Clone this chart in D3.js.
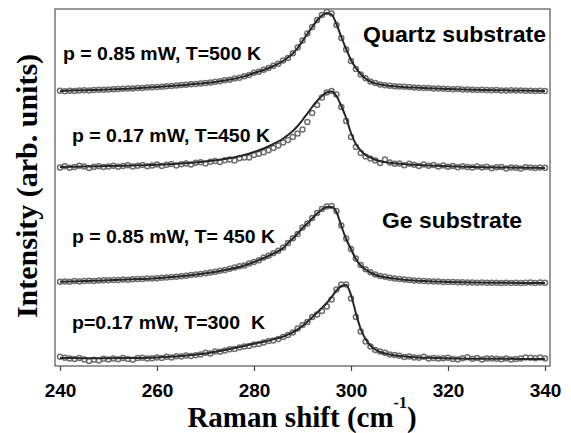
<!DOCTYPE html>
<html>
<head>
<meta charset="utf-8">
<script src="https://cdn.jsdelivr.net/npm/d3@7"></script>
<style>
  body { margin: 0; background: #fff; }
  text { white-space: pre; }
</style>
</head>
<body>
<div id="chart"></div>
<script>
/* CONSTANTS AND GLOBALS */
const width = 571,
  height = 433,
  margin = { top: 9, bottom: 67, left: 55, right: 21 };

/* DATA */
// measured points: one per cm-1 from 240 to 340
const shift = d3.range(240, 341);

// intensities above each spectrum's own baseline (arb. units)
const q085 = [
  0.2, -0.3, 0.3, 0, 0.5, 0.8, 0.6, 1.1, 1.2, 1.3,
  1.6, 1.8, 1.9, 2.3, 2.4, 2.6, 2.9, 3.1, 3.6, 3.8,
  4.1, 4.3, 4.8, 5.0, 5.4, 5.9, 6.2, 6.8, 7.0, 7.6,
  8.1, 8.5, 9.3, 9.8, 10.7, 11.3, 12.4, 13.2, 14.8, 16.0,
  18.2, 19.3, 21.2, 23.0, 25.3, 27.2, 30.4, 33.0, 37.8, 43.5,
  50.5, 57.5, 64.0, 71.0, 76.0, 79.0, 77.5, 66.0, 53.0, 41.5,
  30.0, 22.0, 16.5, 12.8, 9.6, 7.9, 6.6, 5.7, 5.3, 4.8,
  4.4, 4.2, 3.9, 3.5, 3.3, 3.0, 2.9, 2.6, 2.4, 2.2,
  2.1, 1.8, 1.9, 1.5, 1.4, 1.3, 1.1, 1.2, 0.9, 0.8,
  0.9, 0.6, 0.5, 0.7, 0.4, 0.4, 0.2, 0.3, 0.1, 0.2,
  0.0
];
const q017 = [
  0.5, 1.8, 0.2, 1.0, 2.2, 1.5, 0.0, 1.2, 1.8, 1.0,
  1.5, 2.3, 1.2, 2.0, 2.8, 1.6, 2.2, 3.0, 1.8, 2.6,
  3.4, 2.0, 3.2, 3.9, 2.6, 3.8, 4.6, 3.4, 5.2, 5.8,
  4.6, 6.2, 7.0, 6.0, 7.8, 8.6, 7.4, 9.8, 10.6, 10.4,
  13.0, 14.2, 15.8, 17.8, 20.0, 22.5, 25.5, 28.0, 31.0, 34.5,
  38.5, 46.0, 55.0, 63.0, 70.5, 75.5, 77.0, 73.5, 61.0, 47.0,
  31.0, 21.0, 15.0, 11.5, 9.5, 7.5, 5.0, 8.5, 5.5, 4.2,
  4.5, 2.8, 4.2, 3.2, 2.0, 3.6, 2.2, 3.0, 1.6, 2.4,
  1.2, 2.0, 0.8, 1.8, 1.0, 0.4, 1.4, 0.6, 1.2, -0.2,
  0.8, 1.0, -0.4, 0.6, 0.2, -0.6, 0.8, 0.6, 0.0, 0.4,
  0.2
];
const g085 = [
  1.3, 1.5, 1.2, 1.9, 1.6, 2.0, 2.2, 2.1, 2.6, 2.7,
  2.8, 3.0, 3.1, 3.4, 3.3, 3.7, 4.0, 4.1, 4.4, 4.6,
  4.8, 5.2, 5.4, 5.9, 6.2, 6.8, 7.2, 7.9, 8.5, 9.0,
  9.7, 10.5, 11.2, 12.3, 13.0, 14.2, 15.5, 16.8, 17.6, 19.6,
  21.0, 22.8, 25.4, 27.2, 29.8, 32.2, 35.5, 40.0, 44.8, 49.0,
  55.5, 59.5, 65.0, 70.0, 74.0, 76.5, 77.0, 72.0, 57.5, 44.5,
  34.0, 24.5, 18.0, 13.8, 10.8, 8.6, 7.0, 6.2, 5.2, 4.4,
  3.9, 3.5, 3.0, 2.6, 2.2, 1.9, 1.8, 1.5, 1.4, 1.1,
  1.0, 0.9, 0.7, 0.8, 0.5, 0.5, 0.3, 0.4, 0.2, 0.3,
  0.2, 0.0, 0.2, 0.1, 0.3, -0.1, 0.2, 0.5, 0.1, 0.6,
  0.3
];
const g017 = [
  2.3, 1.2, 0.6, 0.0, 1.0, -0.6, -2.0, -0.8, -1.6, 0.2,
  -0.4, 0.6, -0.2, 1.0, 0.0, -0.8, 0.9, 1.2, 0.4, 0.7,
  1.4, 1.0, 2.2, 1.6, 2.8, 2.4, 3.4, 3.0, 3.8, 4.6,
  6.2, 5.6, 7.4, 7.2, 8.6, 9.8, 10.0, 11.6, 12.4, 13.0,
  14.6, 15.0, 16.6, 18.0, 18.4, 20.0, 22.0, 24.0, 26.5, 30.5,
  34.0, 37.0, 42.0, 44.5, 48.0, 52.5, 59.5, 69.5, 74.5, 74.5,
  60.5, 42.0, 27.5, 17.5, 12.5, 9.0, 7.5, 6.2, 4.5, 4.0,
  3.2, 2.0, 2.6, 1.4, 1.2, 2.2, 0.4, 1.0, 0.6, 0.8,
  1.2, 0.0, -0.6, 0.8, 1.8, 0.2, 1.0, -0.4, 0.4, 0.6,
  0.2, -0.2, 0.4, -0.4, 0.0, 0.6, 1.6, 1.2, 0.8, 1.4,
  0.6
];

// fitted line shapes, given at these shifts
const fitShift = [240, 245, 250, 255, 260, 265, 270, 274, 278, 280, 282, 284,
  286, 287, 288, 289, 290, 291, 292, 293, 294, 295, 296, 297, 298, 299, 300,
  301, 302, 303, 304, 305, 306, 308, 310, 313, 316, 320, 325, 330, 335, 340];
const q085Fit = [0, 0.8, 1.6, 2.6, 4, 5.8, 8, 10.6, 14.6, 18, 21, 25,
  30, 33.5, 37.5, 43, 50, 57, 64, 70.5, 75.5, 78, 76.5, 67, 54, 42, 31,
  23, 17, 12.5, 9.5, 7.6, 6.4, 5.1, 4.3, 3.4, 2.7, 2, 1.3, 0.8, 0.4, 0];
const q017Fit = [1, 1.4, 1.9, 2.5, 3.2, 4.5, 6.5, 9, 13, 16, 19.5, 24,
  29.5, 33, 37, 42, 48, 54.5, 61, 67, 72, 75.5, 76.5, 72, 62, 50, 35,
  24, 17.5, 13, 10.5, 8.2, 6.8, 5.2, 4.2, 3.2, 2.5, 1.7, 1, 0.6, 0.3, 0];
const g085Fit = [1.3, 2, 2.8, 3.7, 4.8, 6.8, 9.7, 13, 17.5, 21, 25, 29.5,
  35, 40, 44.5, 49.5, 55, 59.5, 64.5, 69.5, 73.5, 76, 76, 71, 57, 44, 34,
  24, 17.5, 13.5, 10.5, 8.3, 6.8, 5, 3.8, 2.5, 1.7, 1, 0.5, 0.3, 0.1, 0];
const g017Fit = [1, 0.8, 0.8, 1, 1.6, 3, 5.5, 9, 13, 15.2, 17.3, 19.6,
  22.4, 24.3, 26.6, 29.6, 33.2, 37.3, 41.8, 46.3, 51, 56, 62, 68.5, 73, 74, 64,
  46, 30, 20, 13.5, 9.5, 7, 4.5, 3, 1.8, 1.2, 0.7, 0.3, 0.2, 0.1, 0];

// vertical offset of each spectrum in the stack
const offsets = [275, 198, 83, 7];
const pointSets = [q085, q017, g085, g017];
const fitSets = [q085Fit, q017Fit, g085Fit, g017Fit];
const conditionLabels = ["p = 0.85 mW, T=500 K", "p = 0.17 mW, T=450 K",
  "p = 0.85 mW, T= 450 K", "p=0.17 mW, T=300  K"];
const substrateLabels = ["Quartz substrate", "Ge substrate"];
const xTicks = [240, 260, 280, 300, 320, 340];

/* SCALES */
const xScale = d3.scaleLinear()
  .domain([240, 340])
  .range([60, 545]);

const yScale = d3.scaleLinear()
  .domain([0, height - margin.top - margin.bottom])
  .range([height - margin.bottom, margin.top]);

/* SVG */
const svg = d3.select("#chart")
  .append("svg")
  .attr("width", width)
  .attr("height", height);

// frame
svg.append("rect")
  .attr("x", margin.left)
  .attr("y", margin.top)
  .attr("width", width - margin.left - margin.right)
  .attr("height", height - margin.top - margin.bottom)
  .attr("fill", "none")
  .attr("stroke", "#555")
  .attr("stroke-width", 1.2);

// x axis
const xAxis = d3.axisBottom(xScale)
  .tickValues(xTicks)
  .tickSize(5)
  .tickSizeOuter(0)
  .tickPadding(13);

const gx = svg.append("g")
  .attr("transform", `translate(0, ${height - margin.bottom})`)
  .call(xAxis);
gx.select(".domain").remove();
gx.selectAll("line").attr("stroke", "#444").attr("stroke-width", 1.2);
gx.selectAll("text")
  .attr("fill", "#000")
  .style("font", "bold 19px 'Liberation Sans', Arial, sans-serif");

/* SPECTRA */
const line = d3.line()
  .x(d => xScale(d[0]))
  .y(d => yScale(d[1]))
  .curve(d3.curveMonotoneX);

pointSets.forEach((vals, i) => {
  const pts = shift.map((s, j) => [s, vals[j] + offsets[i]]);
  const fit = fitShift.map((s, j) => [s, fitSets[i][j] + offsets[i]]);

  svg.append("g")
    .selectAll("circle")
    .data(pts)
    .join("circle")
    .attr("cx", d => xScale(d[0]))
    .attr("cy", d => yScale(d[1]))
    .attr("r", 2.5)
    .attr("fill", "none")
    .attr("stroke", "#707070")
    .attr("stroke-width", 1.5);

  svg.append("path")
    .datum(fit)
    .attr("d", line)
    .attr("fill", "none")
    .attr("stroke", "#262626")
    .attr("stroke-width", 2);
});

/* LABELS */
const condPos = [[63, 60], [72, 142], [72, 243], [72, 329]];
const condWidth = [198, 198, 203, 193];
svg.selectAll(".cond")
  .data(conditionLabels)
  .join("text")
  .attr("class", "cond")
  .attr("x", (d, i) => condPos[i][0])
  .attr("y", (d, i) => condPos[i][1])
  .attr("textLength", (d, i) => condWidth[i])
  .attr("lengthAdjust", "spacingAndGlyphs")
  .style("font", "bold 18px 'Liberation Sans', Arial, sans-serif")
  .text(d => d);

const subPos = [[363, 42], [382, 228]];
const subWidth = [183, 140];
svg.selectAll(".sub")
  .data(substrateLabels)
  .join("text")
  .attr("class", "sub")
  .attr("x", (d, i) => subPos[i][0])
  .attr("y", (d, i) => subPos[i][1])
  .attr("textLength", (d, i) => subWidth[i])
  .attr("lengthAdjust", "spacingAndGlyphs")
  .style("font", "bold 22px 'Liberation Sans', Arial, sans-serif")
  .text(d => d);

// axis titles
const xTitle = svg.append("text")
  .attr("x", 302)
  .attr("y", 427)
  .attr("text-anchor", "middle")
  .style("font", "bold 29px 'Liberation Serif', 'Times New Roman', serif");
xTitle.append("tspan").text("Raman shift (cm");
xTitle.append("tspan").attr("dy", -19).style("font-size", "16px").text("-1");
xTitle.append("tspan").attr("dy", 19).text(")");

svg.append("text")
  .attr("transform", "translate(37, 186) rotate(-90)")
  .attr("text-anchor", "middle")
  .style("font", "bold 30px 'Liberation Serif', 'Times New Roman', serif")
  .text("Intensity (arb. units)");
</script>
</body>
</html>
